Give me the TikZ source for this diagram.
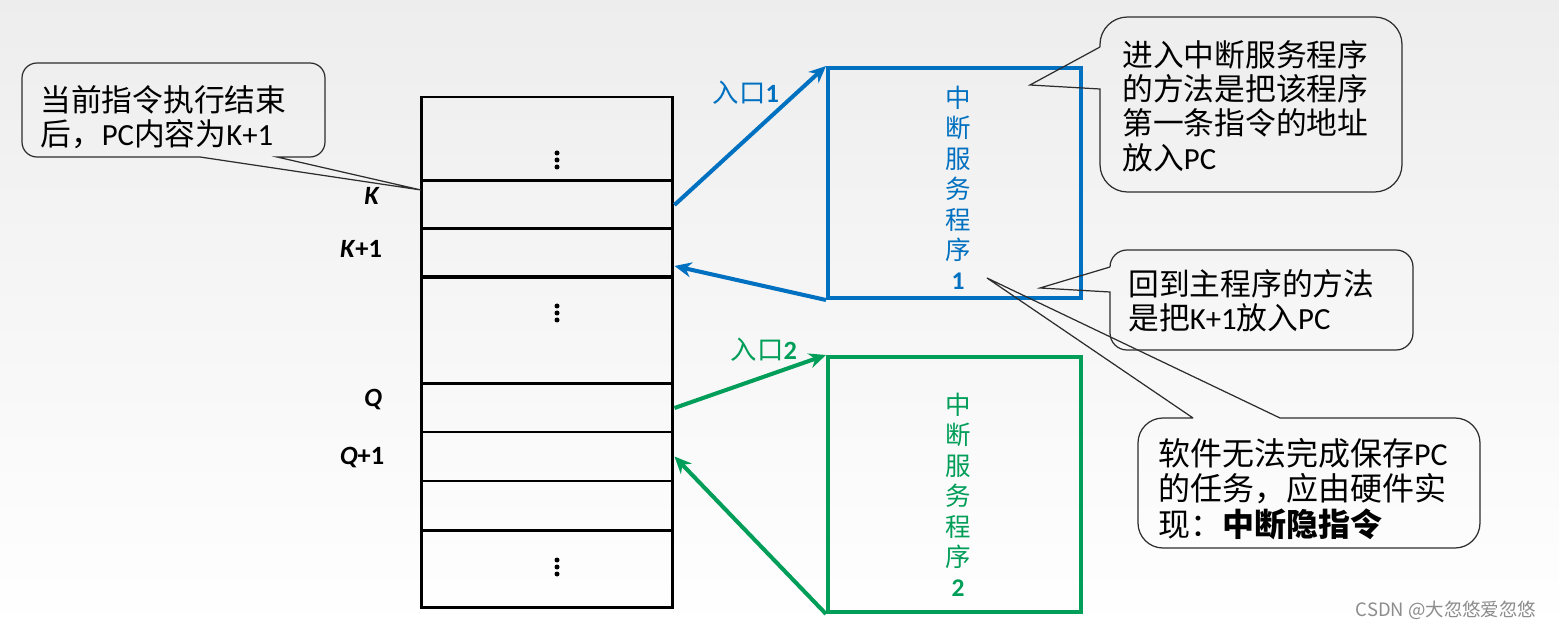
\documentclass[tikz,border=0pt]{standalone}
\usepackage{fontspec}
\setmainfont{Carlito}
\newfontfamily\cjk{Noto Sans CJK SC}
\newcommand{\zh}[1]{{\cjk #1}}
\usetikzlibrary{arrows.meta}
\definecolor{isrblue}{RGB}{0,112,192}
\definecolor{isrgreen}{RGB}{0,158,88}
\definecolor{noteline}{RGB}{45,45,45}
\tikzset{
  cell/.style={draw, line width=1.7pt, minimum width=5.04cm, inner sep=0pt},
  isrbox/.style={draw, line width=2.3pt, minimum width=5.06cm, inner sep=0pt},
  flow/.style={line width=2.3pt, -{Stealth[length=0.34cm,width=0.3cm]}},
  note/.style={draw=noteline, line width=0.7pt},
  notetext/.style={anchor=west, align=left, inner sep=0pt, font=\fontsize{17.5}{19.5}\selectfont},
  boxtext/.style={align=center, inner sep=0pt, font=\fontsize{14.5}{17.3}\selectfont},
  addr/.style={font=\bfseries\fontsize{15}{18}\selectfont},
  entry/.style={font=\fontsize{15}{18}\selectfont},
}
\begin{document}
\begin{tikzpicture}[x=0.02cm, y=-0.02cm]

    \shade[top color=black!7, bottom color=white] (0,0) rectangle (1559,631);
    \useasboundingbox (0,0) rectangle (1559,631);

    % main memory
    \node[cell, minimum height=1.68cm] (r1) at (547,139) {};
    \node[cell, minimum height=0.96cm] (r2) at (547,205) {};
    \node[cell, minimum height=0.96cm] (r3) at (547,253) {};
    \node[cell, minimum height=2.14cm] (r4) at (547,330.5) {};
    \node[cell, minimum height=0.96cm] (r5) at (547,408) {};
    \node[cell, minimum height=0.98cm] (r6) at (547,456.5) {};
    \node[cell, minimum height=0.98cm] (r7) at (547,505.5) {};
    \node[cell, minimum height=1.56cm] (r8) at (547,569) {};
        % vertical dots
        \foreach \y in {160, 313, 567}
            \foreach \d in {-7, 0, 7}
                \fill (557,\y+\d) circle [radius=2.5];

    \node[addr] (lk) at (372,196) {\textit{K}};
    \node[addr] (lk1) at (361,249) {\textit{K}+1};
    \node[addr] (lq) at (373,400) {\textit{Q}};
    \node[addr] (lq1) at (362,458) {\textit{Q}+1};

    % service routines
    \node[isrbox, draw=isrblue, minimum height=4.6cm] (isr1) at (954.5,183) {};
        \node[boxtext, text=isrblue] (t1) at (958,188) {\zh{中}\\\zh{断}\\\zh{服}\\\zh{务}\\\zh{程}\\\zh{序}\\\textbf{1}};
    \node[isrbox, draw=isrgreen, minimum height=5.1cm] (isr2) at (954.5,484.5) {};
        \node[boxtext, text=isrgreen] (t2) at (958,495) {\zh{中}\\\zh{断}\\\zh{服}\\\zh{务}\\\zh{程}\\\zh{序}\\\textbf{2}};

    \draw[flow, isrblue] (r2.east) -- (isr1.north west);
        \node[entry, text=isrblue] (in1) at (746,93) {\zh{入口}\textbf{1}};
    \draw[flow, isrblue] (isr1.south west) -- ([yshift=-0.26cm]r3.east);
    \draw[flow, isrgreen] (r5.east) -- (isr2.north west);
        \node[entry, text=isrgreen] (in2) at (764,350) {\zh{入口}\textbf{2}};
    \draw[flow, isrgreen] (isr2.south west) -- (r6.east);

    % notes
    \coordinate (tip1) at (421,190);
    \draw[note] (200,157) -- (tip1) -- (277,157) [rounded corners=0.3cm] -- (325,157) -- (325,63) -- (22,63) -- (22,157) -- (200,157);
        \node[notetext] (n1) at (40,117) {\zh{当前指令执行结束}\\\zh{后，}PC\zh{内容为}K+1};

    \coordinate (tip2) at (1030,85);
    \draw[note] (1100,47) -- (tip2) -- (1100,89) [rounded corners=0.55cm] -- (1100,192) -- (1402,192) -- (1402,17) -- (1100,17) -- (1100,47);
        \node[notetext] (n2) at (1122,106) {\zh{进入中断服务程序}\\\zh{的方法是把该程序}\\\zh{第一条指令的地址}\\\zh{放入}PC};

    \coordinate (tip3) at (1040,288);
    \draw[note] (1110,267) -- (tip3) -- (1110,292) [rounded corners=0.34cm] -- (1110,350) -- (1413,350) -- (1413,250) -- (1110,250) -- (1110,267);
        \node[notetext] (n3) at (1128,301) {\zh{回到主程序的方法}\\\zh{是把}K+1\zh{放入}PC};

    \coordinate (tip4) at (987,278);
    \draw[note] (1193,418) -- (tip4) -- (1280,418) [rounded corners=0.5cm] -- (1480,418) -- (1480,548) -- (1138,548) -- (1138,418) -- (1193,418);
        \node[notetext, font=\fontsize{18.2}{20.4}\selectfont] (n4) at (1158,489) {\zh{软件无法完成保存}PC\\\zh{的任务，应由硬件实}\\\zh{现：}\textbf{\zh{中断隐指令}}};

    \node[text=black!45, font=\fontsize{10.5}{12}\selectfont] (wm) at (1446,610) {\zh{CSDN @大忽悠爱忽悠}};

\end{tikzpicture}
\end{document}
